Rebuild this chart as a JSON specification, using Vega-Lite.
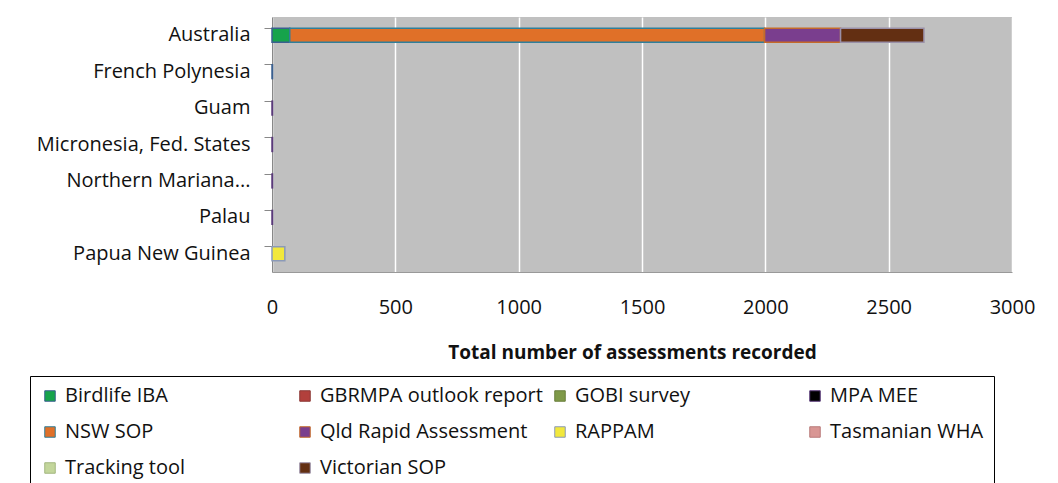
{
  "$schema": "https://vega.github.io/schema/vega-lite/v6.json",
  "width": 740,
  "height": 255,
  "autosize": {"type": "none"},
  "padding": {"left": 272, "top": 17, "right": 46, "bottom": 211},
  "background": "white",
  "config": {
    "font": "Open Sans",
    "view": {"fill": "#c0c0c0", "stroke": null},
    "axis": {"labelFont": "Open Sans", "titleFont": "Open Sans", "labelColor": "#111", "titleColor": "#111"},
    "legend": {"labelFont": "Open Sans"}
  },
  "data": {
    "values": [
      {"country": "Australia", "method": "Birdlife IBA", "value": 72},
      {"country": "Australia", "method": "NSW SOP", "value": 1925},
      {"country": "Australia", "method": "Qld Rapid Assessment", "value": 308},
      {"country": "Australia", "method": "Victorian SOP", "value": 338},
      {"country": "French Polynesia", "method": "Birdlife IBA", "value": 2},
      {"country": "Guam", "method": "MPA MEE", "value": 2},
      {"country": "Micronesia, Fed. States", "method": "MPA MEE", "value": 2},
      {"country": "Northern Mariana Islands", "method": "MPA MEE", "value": 2},
      {"country": "Palau", "method": "MPA MEE", "value": 2},
      {"country": "Papua New Guinea", "method": "RAPPAM", "value": 52}
    ]
  },
  "mark": {"type": "bar", "strokeWidth": 1.5},
  "encoding": {
    "y": {
      "field": "country",
      "type": "nominal",
      "scale": {"paddingInner": 0.62, "paddingOuter": 0.31},
      "axis": {
        "title": null,
        "labelFontSize": 20,
        "labelPadding": 14,
        "tickSize": 8,
        "tickColor": "#888",
        "domainColor": "#888",
        "bandPosition": 0,
        "labelLimit": 300,
        "labelExpr": "datum.label == 'Northern Mariana Islands' ? 'Northern Mariana...' : datum.label"
      }
    },
    "x": {
      "field": "value",
      "type": "quantitative",
      "aggregate": "sum",
      "stack": "zero",
      "scale": {"domain": [0, 3000], "nice": false},
      "axis": {
        "title": "Total number of assessments recorded",
        "titleFontSize": 19,
        "titleFontWeight": "bold",
        "titlePadding": 26,
        "titleX": 360,
        "labelFontSize": 20,
        "labelPadding": 25,
        "labelFlush": false,
        "format": "d",
        "values": [0, 500, 1000, 1500, 2000, 2500, 3000],
        "ticks": false,
        "domainColor": "#999",
        "grid": true,
        "gridColor": "white",
        "gridWidth": 1.5
      }
    },
    "color": {
      "field": "method",
      "type": "nominal",
      "scale": {
        "domain": ["Birdlife IBA", "GBRMPA outlook report", "GOBI survey", "MPA MEE", "NSW SOP", "Qld Rapid Assessment", "RAPPAM", "Tasmanian WHA", "Tracking tool", "Victorian SOP"],
        "range": ["#16a34b", "#b2403c", "#7f9a48", "#000000", "#e07028", "#7a3e8e", "#f2e83c", "#d99694", "#c3d69b", "#632f12"]
      },
      "legend": {
        "title": null,
        "orient": "none",
        "legendX": -242,
        "legendY": 359,
        "direction": "horizontal",
        "columns": 4,
        "gridAlign": "all",
        "columnPadding": 7,
        "rowPadding": 16,
        "padding": 10,
        "strokeColor": "black",
        "symbolType": "square",
        "symbolSize": 110,
        "symbolStrokeWidth": 1,
        "labelFontSize": 20,
        "labelOffset": 5,
        "labelColor": "#111",
        "labelLimit": 400
      }
    },
    "stroke": {
      "field": "method",
      "type": "nominal",
      "scale": {
        "domain": ["Birdlife IBA", "GBRMPA outlook report", "GOBI survey", "MPA MEE", "NSW SOP", "Qld Rapid Assessment", "RAPPAM", "Tasmanian WHA", "Tracking tool", "Victorian SOP"],
        "range": ["#3a5f8f", "#8c3836", "#6a7f3c", "#5a3a7a", "#2f7f9a", "#c46a2a", "#8b9ab8", "#b97b7a", "#a3b67f", "#9a90a8"]
      },
      "legend": null
    }
  }
}
